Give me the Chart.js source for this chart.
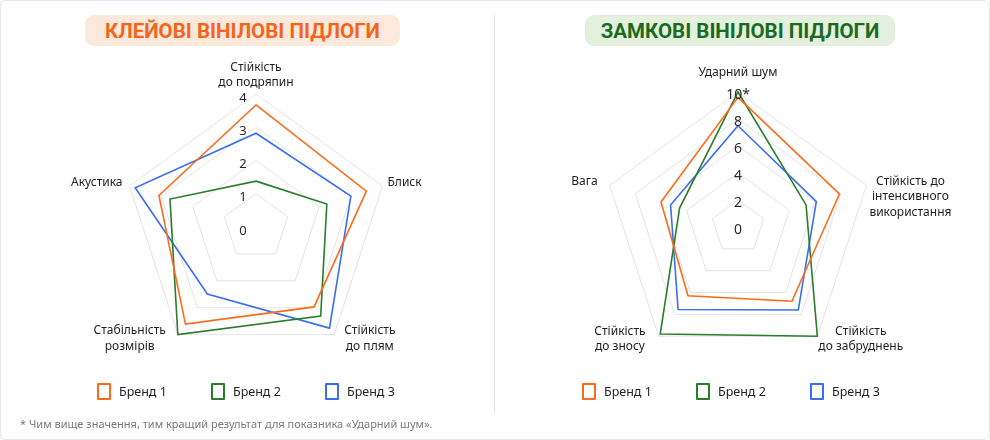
<!DOCTYPE html>
<html>
<head>
<meta charset="utf-8">
<script src="https://cdn.jsdelivr.net/npm/chart.js@4.4.1/dist/chart.umd.min.js"></script>
<style>
  html, body { margin: 0; padding: 0; background: #ffffff; }
  #stage { position: relative; width: 990px; height: 440px; overflow: hidden; font-family: "Noto Sans", "Open Sans", sans-serif; background: #fff; }
  #frame { position: absolute; left: 0; top: 0; width: 990px; height: 440px; box-sizing: border-box; border: 1.5px solid #e8e8e8; border-radius: 6px; pointer-events: none; }
  .pill { position: absolute; top: 15px; height: 31px; border-radius: 9px; display: flex; align-items: center; justify-content: center;
          font-family: "Roboto", "Noto Sans", sans-serif; font-weight: 700; font-size: 20.5px; letter-spacing: 0px; white-space: nowrap; }
  #pillL { left: 85px; width: 315px; background: #fde8dc; color: #f2661b; }
  #pillR { left: 585px; width: 310px; background: #e2f0dd; color: #1d6a1d; }
  #divider { position: absolute; left: 494px; top: 15px; width: 1px; height: 398px; background: #e3e3e3; }
  canvas { position: absolute; top: 0; }
  #cL { left: 0; }
  #cR { left: 495px; }
  .legend { position: absolute; top: 383px; display: flex; }
  .legend .item { width: 114px; display: flex; align-items: center; height: 17px; }
  .legend .box { width: 14px; height: 17px; box-sizing: border-box; border-width: 2px; border-style: solid; border-radius: 1px; margin-right: 8px; }
  .legend .txt { font-size: 12.5px; color: #222; }
  #legL { left: 97px; }
  #legR { left: 582px; }
  #note { position: absolute; left: 20px; top: 416px; font-size: 11px; color: #7a7a7a; white-space: nowrap; }
</style>
</head>
<body>
<div id="stage">
  <div id="pillL" class="pill">КЛЕЙОВІ ВІНІЛОВІ ПІДЛОГИ</div>
  <div id="pillR" class="pill">ЗАМКОВІ ВІНІЛОВІ ПІДЛОГИ</div>
  <div id="divider"></div>
  <canvas id="cL" width="513" height="440"></canvas>
  <canvas id="cR" width="487" height="440"></canvas>
  <div id="legL" class="legend"></div>
  <div id="legR" class="legend"></div>
  <div id="note">* Чим вище значення, тим кращий результат для показника «Ударний шум».</div>
  <div id="frame"></div>
</div>
<script>
// ---------- data ----------
const brandNames = ['Бренд 1', 'Бренд 2', 'Бренд 3'];

const leftCategories = [['Стійкість', 'до подряпин'], 'Блиск', ['Стійкість', 'до плям'], ['Стабільність', 'розмірів'], 'Акустика'];
const leftBrand1 = [3.67, 3.49, 2.97, 3.61, 3.07];
const leftBrand2 = [1.38, 2.24, 3.31, 4.0, 2.72];
const leftBrand3 = [2.82, 3.0, 3.76, 2.49, 3.82];
const leftTickValues = [0, 1, 2, 3, 4];
const leftTickLabels = ['0', '1', '2', '3', '4'];

const rightCategories = ['Ударний шум', ['Стійкість до', 'інтенсивного', 'використання'], ['Стійкість', 'до забруднень'], ['Стійкість', 'до зносу'], 'Вага'];
const rightBrand1 = [9.6, 7.9, 6.8, 6.3, 6.0];
const rightBrand2 = [10, 5.3, 10, 9.8, 4.55];
const rightBrand3 = [7.5, 6.1, 7.6, 7.55, 5.25];
const rightTickValues = [0, 2, 4, 6, 8, 10];
const rightTickLabels = ['0', '2', '4', '6', '8', '10*'];

// ---------- style ----------
const brandColors = ['#ff6a1a', '#2a7d2a', '#3a6ef2'];

const radarText = {
  id: 'radarText',
  afterDraw(chart, args, o) {
    const s = chart.scales.r;
    const ctx = chart.ctx;
    ctx.save();
    ctx.textAlign = 'center';
    ctx.textBaseline = 'middle';
    // tick labels
    ctx.font = o.tickFont;
    ctx.fillStyle = o.tickColor;
    o.tickValues.forEach((v, k) => {
      const p = s.getPointPosition(0, s.getDistanceFromCenterForValue(v));
      ctx.fillText(o.tickLabels[k], p.x + o.tickDx, p.y + o.tickDy);
    });
    // point labels
    ctx.font = o.labelFont;
    ctx.fillStyle = o.labelColor;
    const n = chart.data.labels.length;
    const lh = o.lineHeight;
    chart.data.labels.forEach((lab, i) => {
      const lines = [].concat(lab);
      const p = s.getPointPosition(i, s.drawingArea);
      const w = Math.max(...lines.map(l => ctx.measureText(l).width));
      const deg = 360 * i / n;
      let cx, y0;
      if (deg === 0) {
        cx = p.x; y0 = p.y - o.topGap - (lines.length - 1) * lh;
      } else if (deg < 90) {
        cx = p.x + o.sideGapR + w / 2; y0 = p.y + o.sideDy;
      } else if (deg < 180) {
        cx = p.x + o.bottomGapR + w / 2; y0 = p.y + o.bottomDy - (lines.length - 1) * lh / 2;
      } else if (deg < 270) {
        cx = p.x - o.bottomGapL - w / 2; y0 = p.y + o.bottomDy - (lines.length - 1) * lh / 2;
      } else {
        cx = p.x - o.sideGapL - w / 2; y0 = p.y + o.sideDy;
      }
      lines.forEach((l, k) => ctx.fillText(l, cx, y0 + k * lh));
    });
    ctx.restore();
  }
};

function makeRadar(canvasId, categories, series, max, step, padTop, padBottom, textOpts) {
  return new Chart(document.getElementById(canvasId), {
    type: 'radar',
    data: {
      labels: categories,
      datasets: series.map((d, k) => ({
        label: brandNames[k],
        data: d,
        borderColor: brandColors[k],
        backgroundColor: 'rgba(0,0,0,0)',
        borderWidth: 1.6,
        borderJoinStyle: 'miter',
        pointRadius: 0,
        pointHoverRadius: 0,
        fill: false,
        tension: 0
      }))
    },
    options: {
      responsive: false,
      animation: false,
      events: [],
      layout: { padding: { top: padTop, bottom: padBottom, left: 0, right: 0 } },
      plugins: { legend: { display: false }, tooltip: { enabled: false }, radarText: textOpts },
      scales: {
        r: {
          min: 0, max: max,
          ticks: { display: false, stepSize: step },
          grid: { color: '#e4e4e4', lineWidth: 1 },
          angleLines: { display: false },
          pointLabels: { display: false }
        }
      }
    },
    plugins: [radarText]
  });
}

const baseText = {
  tickColor: '#2a2a2a', labelColor: '#1e1e1e',
  labelFont: '12px "Noto Sans", "Open Sans", sans-serif', lineHeight: 15.5
};

const chartL = makeRadar('cL', leftCategories, [leftBrand1, leftBrand2, leftBrand3], 4, 1, 94, 80,
  Object.assign({}, baseText, {
    tickValues: leftTickValues, tickLabels: leftTickLabels,
    tickFont: '13px "Noto Sans", sans-serif', tickDx: -13, tickDy: 4,
    topGap: 11, sideGapR: 5, sideGapL: 7, sideDy: -3, bottomGapR: 10, bottomGapL: 12, bottomDy: 4
  }));

const chartR = makeRadar('cR', rightCategories, [rightBrand1, rightBrand2, rightBrand3], 10, 2, 92, 78,
  Object.assign({}, baseText, {
    tickValues: rightTickValues, tickLabels: rightTickLabels,
    tickFont: '14px "Noto Sans", sans-serif', tickDx: 0, tickDy: 3,
    topGap: 19, sideGapR: 3, sideGapL: 12, sideDy: -4, bottomGapR: 1, bottomGapL: 13, bottomDy: 3
  }));

function htmlLegend(chart, id) {
  const host = document.getElementById(id);
  chart.data.datasets.forEach(ds => {
    const item = document.createElement('div');
    item.className = 'item';
    const box = document.createElement('span');
    box.className = 'box';
    box.style.borderColor = ds.borderColor;
    const txt = document.createElement('span');
    txt.className = 'txt';
    txt.textContent = ds.label;
    item.appendChild(box);
    item.appendChild(txt);
    host.appendChild(item);
  });
}
htmlLegend(chartL, 'legL');
htmlLegend(chartR, 'legR');
</script>
</body>
</html>
